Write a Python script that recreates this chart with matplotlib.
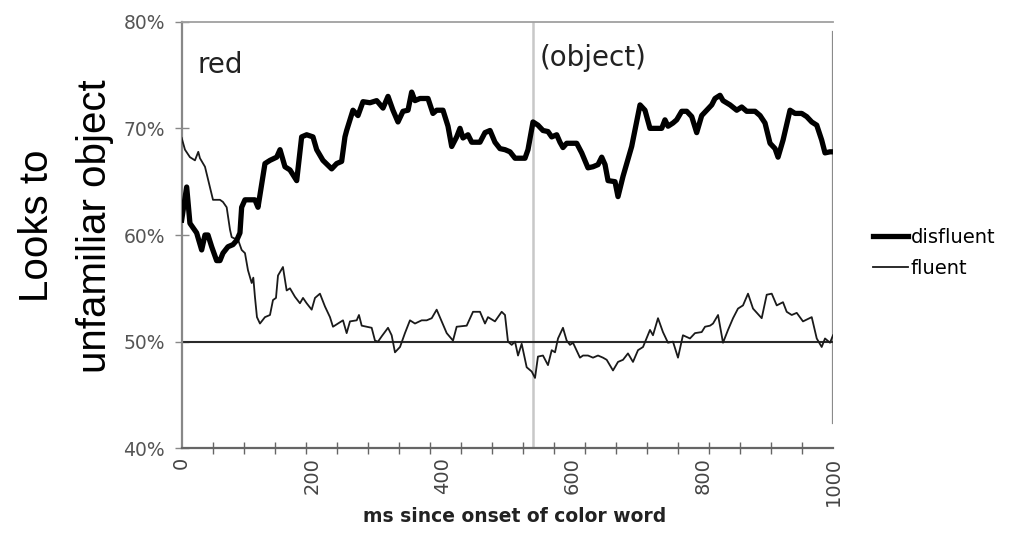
from matplotlib import pyplot as plt
from matplotlib.ticker import FuncFormatter
import numpy

# looks to the unfamiliar object (%) over time (ms since onset of color word)
disfluent_ms = [0, 7.7, 12.7, 23.0, 30.7, 35.8, 40.4, 46.1, 53.7, 58.8,
                63.4, 71.1, 78.8, 84.5, 89.5, 92.1, 97.2, 112.5, 117.2, 127.9,
                135.6, 145.9, 151.0, 158.6, 166.3, 176.6, 184.2, 191.9, 201.6, 207.3,
                216.9, 230.3, 238.0, 245.6, 250.7, 253.3, 263.0, 270.7, 278.4, 289.1,
                299.4, 309.1, 316.8, 324.4, 332.1, 339.8, 347.5, 353.1, 358.2, 365.9,
                378.2, 385.8, 391.5, 401.2, 408.9, 414.6, 422.2, 427.3, 431.9, 439.6,
                445.3, 458.0, 465.7, 473.4, 481.0, 488.7, 496.4, 504.1, 511.8, 527.1,
                531.7, 539.4, 547.0, 554.7, 562.4, 568.1, 575.8, 580.8, 585.4, 591.1,
                606.5, 614.2, 623.8, 631.5, 639.2, 644.9, 650.0, 654.6, 665.3, 669.9,
                677.6, 690.9, 703.7, 711.3, 719.0, 737.0, 742.0, 746.7, 754.3, 760.0,
                767.7, 775.4, 783.1, 790.7, 798.4, 806.1, 813.8, 818.8, 826.5, 831.1,
                841.9, 852.2, 859.8, 867.5, 880.3, 888.0, 895.6, 903.3, 911.0, 915.6,
                923.3, 934.0, 941.7, 951.9, 959.6, 967.3, 975.0, 982.6, 987.7, 995.4, 1000]
disfluent_pct = [61.4, 64.5, 61.1, 60.2, 58.6, 60.0, 60.0, 58.9, 57.6, 57.6,
                 58.3, 58.9, 59.1, 59.5, 60.2, 62.6, 63.3, 63.3, 62.6, 66.7,
                 67.0, 67.3, 68.0, 66.4, 66.1, 65.1, 69.2, 69.4, 69.2, 68.0,
                 67.0, 66.2, 66.7, 66.9, 69.2, 69.8, 71.7, 71.2, 72.5, 72.4,
                 72.6, 71.9, 73.0, 71.7, 70.6, 71.6, 71.7, 73.4, 72.6, 72.8,
                 72.8, 71.4, 71.7, 71.7, 70.2, 68.3, 69.2, 70.0, 69.1, 69.4,
                 68.7, 68.7, 69.6, 69.8, 68.7, 68.1, 68.0, 67.8, 67.2, 67.2,
                 68.0, 70.6, 70.3, 69.8, 69.7, 69.2, 69.4, 68.7, 68.2, 68.6,
                 68.6, 67.7, 66.3, 66.4, 66.6, 67.3, 66.6, 65.1, 65.0, 63.6,
                 65.5, 68.3, 72.2, 71.7, 70.0, 70.0, 70.8, 70.2, 70.5, 70.8,
                 71.6, 71.6, 71.1, 69.6, 71.2, 71.7, 72.2, 72.8, 73.1, 72.6,
                 72.2, 71.7, 72.0, 71.6, 71.6, 71.2, 70.5, 68.6, 68.1, 67.3,
                 68.9, 71.7, 71.4, 71.4, 71.1, 70.6, 70.3, 68.9, 67.7, 67.8, 67.8]

fluent_ms = [0, 5.1, 12.7, 20.4, 25.5, 28.1, 35.8, 43.4, 48.1, 58.8,
             63.4, 69.1, 74.2, 76.8, 86.9, 92.1, 97.2, 101.8, 107.5, 110.0,
             112.5, 115.6, 120.2, 127.9, 135.6, 140.2, 144.8, 147.9, 155.5, 161.2,
             166.3, 174.0, 181.6, 186.3, 191.9, 199.6, 204.7, 212.3, 220.0, 227.7,
             232.3, 240.0, 247.7, 253.3, 258.4, 268.7, 272.2, 276.4, 284.0, 291.7,
             296.8, 301.4, 307.1, 316.8, 322.4, 327.5, 335.2, 342.8, 350.5, 358.2,
             368.5, 376.2, 383.9, 391.5, 399.2, 406.9, 416.6, 422.2, 437.6, 447.3,
             458.0, 465.7, 470.3, 481.0, 491.3, 496.4, 501.0, 506.7, 511.8, 516.4,
             522.0, 529.7, 537.4, 542.5, 547.0, 554.7, 562.4, 568.1, 573.2, 577.8,
             585.4, 591.1, 596.2, 600.8, 611.5, 616.2, 623.8, 631.5, 639.2, 646.8,
             652.5, 662.2, 669.9, 677.6, 685.2, 692.9, 700.6, 708.3, 719.0, 723.6,
             731.3, 738.9, 746.6, 754.3, 762.0, 769.6, 780.4, 788.1, 798.4, 803.5,
             811.2, 815.8, 823.5, 831.1, 838.8, 846.5, 854.1, 861.8, 869.5, 877.2,
             890.5, 898.2, 905.9, 913.6, 923.2, 928.9, 936.6, 944.3, 953.9, 967.3,
             975.0, 982.6, 987.7, 995.4, 1000]
fluent_pct = [69.1, 68.0, 67.3, 67.0, 67.8, 67.2, 66.4, 64.5, 63.3, 63.3,
              63.1, 62.6, 60.5, 59.8, 59.5, 58.6, 58.3, 56.7, 55.5, 56.0,
              54.2, 52.3, 51.7, 52.3, 52.5, 53.9, 54.1, 56.2, 57.0, 54.8,
              55.0, 54.2, 53.6, 54.1, 53.6, 53.0, 54.1, 54.5, 53.3, 52.3,
              51.4, 51.7, 52.0, 50.8, 51.9, 52.0, 52.5, 51.5, 51.4, 51.3,
              50.1, 50.0, 50.5, 51.3, 50.6, 49.0, 49.5, 50.8, 52.0, 51.7,
              52.0, 52.0, 52.2, 53.0, 51.9, 50.8, 50.1, 51.4, 51.5, 52.8,
              52.8, 51.7, 52.3, 51.9, 52.8, 52.5, 50.0, 49.7, 50.0, 48.7,
              49.8, 47.6, 47.2, 46.6, 48.6, 48.7, 47.8, 49.2, 49.0, 50.3,
              51.3, 50.1, 49.7, 49.9, 48.5, 48.7, 48.7, 48.5, 48.7, 48.5,
              48.3, 47.3, 48.1, 48.3, 48.9, 48.1, 49.2, 49.5, 51.1, 50.6,
              52.2, 50.9, 49.9, 50.0, 48.5, 50.6, 50.3, 50.8, 50.9, 51.4,
              51.5, 51.7, 52.5, 49.9, 51.1, 52.2, 53.1, 53.4, 54.5, 53.1,
              52.2, 54.4, 54.5, 53.4, 53.7, 52.8, 52.5, 52.7, 51.9, 52.3,
              50.3, 49.5, 50.3, 49.9, 50.6]

x_labels = [0, 200, 400, 600, 800, 1000]
y_ticks = [40, 50, 60, 70, 80]
chance = 50
object_onset = 540
regions = [('red', 25, 75.2), ('(object)', 550, 75.8)]

plt.rcParams['font.family'] = 'DejaVu Sans'

fig = plt.figure(figsize=(10.16, 5.44), dpi=100)
ax = fig.add_axes([0.1788, 0.1759, 0.6411, 0.7842])

ax.plot(disfluent_ms, disfluent_pct, color='black', lw=3.8,
        solid_joinstyle='round', label='disfluent', zorder=4)
ax.plot(fluent_ms, fluent_pct, color='#1a1a1a', lw=1.3, label='fluent', zorder=3)

ax.axhline(chance, color='#2a2a2a', lw=1.5, zorder=2)
ax.axvline(object_onset, color='#c8c8c8', lw=1.8, zorder=1)
ax.axvline(1000, ymin=0.06, ymax=0.975, color='#8a8a8a', lw=1.6, zorder=1)

for txt, xv, yv in regions:
    ax.text(xv, yv, txt, fontsize=20, ha='left', va='baseline', color='#222222')

ax.set_xlim(0, 1000)
ax.set_ylim(40, 80)

ax.set_xticks(x_labels)
ax.set_xticks(numpy.linspace(0, 1000, 22), minor=True)
ax.tick_params(axis='x', which='major', length=0, pad=6, labelsize=14,
               labelcolor='#444444', labelrotation=90)
ax.tick_params(axis='x', which='minor', direction='inout', length=8,
               width=1, color='#666666')
ax.set_yticks(y_ticks)
ax.yaxis.set_major_formatter(FuncFormatter(lambda v, p: '%d%%' % v))
ax.tick_params(axis='y', direction='inout', length=10, width=1, color='#888888',
               pad=7, labelsize=13.5, labelcolor='#555555')

ax.spines['right'].set_visible(False)
ax.spines['top'].set_color('#a0a0a0')
ax.spines['top'].set_linewidth(1.3)
ax.spines['left'].set_color('#888888')
ax.spines['left'].set_linewidth(1.6)
ax.spines['bottom'].set_color('#666666')
ax.spines['bottom'].set_linewidth(1.6)

fig.text(515 / 1016, 1 - 517 / 544, 'ms since onset of color word',
         ha='center', va='center', fontsize=13.5, fontweight='bold', color='#222222')
fig.text(66 / 1016, 1 - 226 / 544, 'Looks to\nunfamiliar object', rotation=90,
         ha='center', va='center', multialignment='center', fontsize=29,
         family='Liberation Sans', linespacing=1.65)

ax.legend(loc='center left', bbox_to_anchor=(0.842, 0.535),
          bbox_transform=fig.transFigure, frameon=False, fontsize=14,
          handlelength=1.8, handletextpad=0.15, labelspacing=0.6)

fig.savefig('out.png', dpi=100)
plt.close()
